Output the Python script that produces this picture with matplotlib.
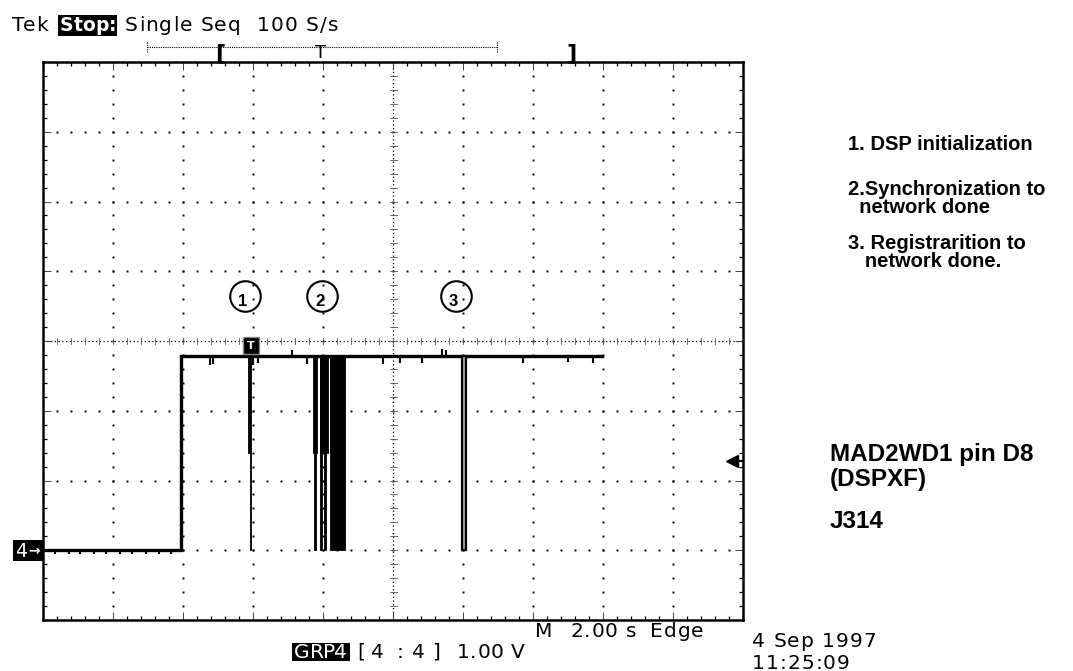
import matplotlib
matplotlib.use("Agg")
import matplotlib.pyplot as plt
from matplotlib.patches import Rectangle
from matplotlib.font_manager import FontProperties

W, H = 1073, 671

# ---------------- data (screen: 2.00 s/div, 1.00 V/div, ground marker at 0 V) ----------
t_record = [0.0, 15.96]          # acquired record (s from left edge of screen)
t_rise = 3.94                    # rising edge (s)
V_low, V_high, V_mid = 0.0, 2.78, 1.39
trigger_level = 1.28             # V, right-hand trigger arrow
trigger_time = 5.94              # s, "T" marker on the trace

# pulses that drop to the mid level (start s, end s)
shallow_pulses = [(5.87, 5.92), (7.705, 7.819), (7.914, 8.152), (8.20, 8.438),
                  (8.486, 8.533), (8.562, 8.60), (11.93, 11.98)]
# pulses that drop to 0 V
deep_pulses = [(5.92, 5.95), (7.75, 7.79), (7.91, 7.96), (8.03, 8.08), (8.20, 8.62)]
# narrow pulse drawn as an outline (event 3)
hollow_pulses = [(11.97, 12.08)]

# small glitches on the high level (time s, deviation V)
high_glitches = [(4.77, -0.10), (4.87, -0.08), (6.00, -0.10), (6.15, -0.06), (7.10, 0.06),
                 (7.55, -0.08), (9.70, -0.08), (10.20, -0.06), (10.84, -0.07),
                 (11.40, 0.07), (11.50, 0.06), (13.70, -0.06), (15.00, -0.05), (15.70, -0.06)]
# small ripples on the low level
low_glitches = [0.35, 0.75, 1.05, 1.45, 1.80, 2.20, 2.55, 2.95, 3.30, 3.65]

# event annotation circles (time s, V, label)
events = [(5.77, 3.65, "1"), (7.96, 3.65, "2"), (11.79, 3.64, "3")]

notes = ["1. DSP initialization", "2.Synchronization to", "  network done",
         "3. Registrarition to", "   network done."]
signal_name = ["MAD2WD1 pin D8", "(DSPXF)", "J314"]

# ---------------- figure ------------------------------------------------------------
fig = plt.figure(figsize=(W / 100, H / 100), dpi=100)
fig.patch.set_facecolor("white")
ax = fig.add_axes([43 / W, 1 - 620 / H, 700 / W, 558 / H])
ax.set_xlim(0, 20)
ax.set_ylim(-1, 7)
ax.set_facecolor("white")
for s in ax.spines.values():
    s.set_linewidth(1.8)
    s.set_color("black")

# edge ticks
minor_x = [0.4 * i for i in range(1, 50)]
minor_y = [-1 + 0.2 * i for i in range(1, 40)]
ax.set_xticks([2 * i for i in range(1, 10)])
ax.set_yticks([-1 + i for i in range(1, 8)])
ax.set_xticks(minor_x, minor=True)
ax.set_yticks(minor_y, minor=True)
ax.tick_params(which="both", direction="in", top=True, right=True, bottom=True, left=True,
               labelbottom=False, labelleft=False)
ax.tick_params(which="major", length=6, width=0.7, color="#444444")
ax.tick_params(which="minor", length=3, width=0.9, color="black")

# graticule dots
for k in range(1, 10):
    if k == 5:
        continue
    ax.plot([2 * k] * len(minor_y), minor_y, ls="none", marker="s", ms=1.4, mew=0,
            color="black", zorder=1)
for k in range(1, 8):
    if k == 4:
        continue
    ax.plot(minor_x, [-1 + k] * len(minor_x), ls="none", marker="s", ms=1.4, mew=0,
            color="black", zorder=1)
# center cross
ax.plot([10, 10], [-1, 7], ls=(0, (1, 2)), lw=0.9, color="black", zorder=1)
ax.plot([0, 20], [3, 3], ls=(0, (1, 2)), lw=0.9, color="black", zorder=1)
for y in minor_y:
    ax.plot([9.9, 10.1], [y, y], lw=0.6, color="#555555", zorder=1)
for x in minor_x:
    ax.plot([x, x], [2.95, 3.05], lw=0.6, color="#555555", zorder=1)

# ---------------- trace ------------------------------------------------------------
ax.plot([t_record[0], t_rise, t_rise, t_record[1]], [V_low, V_low, V_high, V_high],
        color="black", lw=2.4, solid_joinstyle="miter", zorder=3)
for a, b in shallow_pulses:
    ax.bar(a, V_high - V_mid, width=b - a, bottom=V_mid, align="edge",
           color="black", edgecolor="black", lw=0.6, zorder=3)
for a, b in deep_pulses:
    ax.bar(a, V_high - V_low, width=b - a, bottom=V_low, align="edge",
           color="black", edgecolor="black", lw=0.6, zorder=3)
for a, b in hollow_pulses:
    ax.bar(a, V_high - V_low, width=b - a, bottom=V_low, align="edge",
           color="#aaaaaa", edgecolor="black", lw=1.6, zorder=3)
ax.vlines([g[0] for g in high_glitches], V_high,
          [V_high + g[1] - 0.03 * (1 if g[1] < 0 else -1) for g in high_glitches],
          color="black", lw=1.5, zorder=3)
ax.vlines(low_glitches, V_low, V_low - 0.06, color="black", lw=1.5, zorder=3)

# trigger marker on trace
ax.add_patch(Rectangle((trigger_time - 0.23, 2.81), 0.46, 0.25, facecolor="black",
                       edgecolor="#888888", lw=1, zorder=4))
ax.text(trigger_time, 2.93, "T", color="white", fontsize=8, fontweight="bold",
        ha="center", va="center", zorder=5)
# trigger level arrow
ax.plot([19.68], [trigger_level], marker="<", ms=8, color="black", clip_on=False, zorder=4)
ax.plot([19.7, 20], [trigger_level, trigger_level], color="black", lw=1.5, zorder=4)

# event circles
for t, v, lab in events:
    ax.plot([t], [v], marker="o", ms=22, mfc="none", mec="black", mew=1.5, zorder=4)
    ax.annotate(lab, (t, v), xytext=(-1.5, -4), textcoords="offset points",
                ha="center", va="center", fontsize=12, fontweight="bold",
                family="Liberation Sans", zorder=5)

# ---------------- scope texts -------------------------------------------------------
renderer = fig.canvas.get_renderer()


def ftxt(x, y, s, **kw):
    kw.setdefault("fontsize", 14.5)
    kw.setdefault("family", "DejaVu Sans")
    kw.setdefault("zorder", 5)
    return fig.text(x / W, 1 - y / H, s, ha=kw.pop("ha", "left"), va=kw.pop("va", "baseline"), **kw)


def box(x0, x1, y0, y1):
    fig.add_artist(Rectangle((x0 / W, 1 - y1 / H), (x1 - x0) / W, (y1 - y0) / H,
                             transform=fig.transFigure, facecolor="black", edgecolor="none",
                             zorder=4))


def scope_text(x, y, s, track=1.0, size=14.5, color="black", weight="normal"):
    """Tek-style text: DejaVu Sans with a little extra letter spacing (pixels)."""
    prop = FontProperties(family="DejaVu Sans", size=size, weight=weight)
    base = renderer.get_text_width_height_descent("aa", prop, ismath=False)[0]
    cx = x
    for c in s:
        adv = renderer.get_text_width_height_descent("a" + c + "a", prop, ismath=False)[0] - base
        if c != " ":
            fig.text(cx / W, 1 - y / H, c, ha="left", va="baseline", fontproperties=prop,
                     color=color, zorder=5)
        cx += adv + track
    return cx


scope_text(12, 31, "Tek", track=1.5)
box(58, 117, 15, 36)
scope_text(60, 31, "Stop:", color="white", size=13.5, weight="bold", track=0)
scope_text(125, 31, "Single Seq")
scope_text(257, 31, "100 S/s")

# record-position bar
fig.add_artist(plt.Line2D([147 / W, 497 / W], [1 - 47 / H] * 2, ls=(0, (1, 1)), lw=0.8,
                          color="black"))
for xx in (147, 497):
    fig.add_artist(plt.Line2D([xx / W] * 2, [1 - 42 / H, 1 - 53 / H], ls=(0, (1, 1)), lw=0.8,
                              color="black"))
ftxt(215, 43, "[", va="top", fontsize=16, fontweight="bold")
ftxt(321, 44, "T", va="top", ha="center", fontsize=13)
ftxt(566, 43, "]", va="top", fontsize=16, fontweight="bold")

# ground marker
box(13, 43, 540, 561)
ftxt(15, 557, "4", color="white", fontsize=13.5)
ftxt(28, 555, "\u2192", color="white", fontsize=10, fontweight="bold")

scope_text(535, 637, "M")
scope_text(570, 637, "2.00 s")
scope_text(650, 637, "Edge")
box(292, 350, 643, 661)
scope_text(294, 658, "GRP4", color="white", track=0)
ftxt(357, 658, "[")
ftxt(371, 658, "4")
ftxt(397, 658, ":")
ftxt(412, 658, "4")
ftxt(432, 658, "]")
scope_text(457, 658, "1.00 V", track=0.5)
scope_text(752, 647, "4 Sep 1997")
scope_text(752, 669, "11:25:09")

# ---------------- annotations -------------------------------------------------------
note_y = [150, 195, 213, 249, 267]
for s, y in zip(notes, note_y):
    ftxt(848, y, s, family="Liberation Sans", fontweight="bold", fontsize=14.5)
sig_y = [461, 486, 528]
for s, y in zip(signal_name, sig_y):
    ftxt(830, y, s, family="Liberation Sans", fontweight="bold", fontsize=17.5)

fig.savefig("out.png", dpi=100, facecolor="white")
